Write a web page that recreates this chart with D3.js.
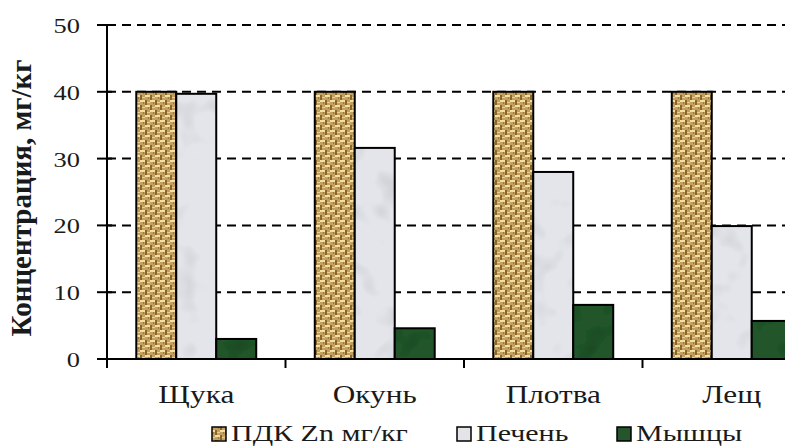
<!DOCTYPE html>
<html><head><meta charset="utf-8">
<script src="https://cdn.jsdelivr.net/npm/d3@7"></script>
<style>body{margin:0;background:#fff;overflow:hidden}svg{display:block}
text{font-family:"Liberation Serif","Times New Roman","DejaVu Serif",serif;fill:#1a1a1a}</style>
</head><body>
<script>
const categories = ["Щука", "Окунь", "Плотва", "Лещ"];
const seriesNames = ["ПДК Zn мг/кг", "Печень", "Мышцы"];
const pdk = [40, 40, 40, 40];
const liver = [39.7, 31.6, 28.0, 19.9];
const muscle = [3.0, 4.6, 8.1, 5.7];
const yTicks = [0, 10, 20, 30, 40, 50];
const yTitle = "Концентрация, мг/кг";

const W = 785, H = 448;
const svg = d3.select("body").append("svg").attr("width", W).attr("height", H);
const defs = svg.append("defs");

// burlap pattern
const pb = defs.append("pattern").attr("id","burlap").attr("patternUnits","userSpaceOnUse").attr("width",10).attr("height",10);
pb.append("rect").attr("width",10).attr("height",10).attr("fill","#c2a060");
[[0,0,5,2,"#f2dfa6"],[5,5,5,2,"#f2dfa6"],[0,5,2,5,"#8a6428"],[5,0,2,5,"#8a6428"],
 [2,7,3,1,"#e8d08f"],[7,2,3,1,"#e8d08f"],[3,2,1,2,"#9f7c3c"],[8,7,1,2,"#9f7c3c"]]
 .forEach(r=>pb.append("rect").attr("x",r[0]).attr("y",r[1]).attr("width",r[2]).attr("height",r[3]).attr("fill",r[4]));

function marbleFilter(id, seed, amp){
  const f = defs.append("filter").attr("id",id).attr("x",0).attr("y",0).attr("width",1).attr("height",1);
  f.append("feTurbulence").attr("type","fractalNoise").attr("baseFrequency",0.04).attr("numOctaves",2).attr("seed",seed).attr("result","n");
  f.append("feColorMatrix").attr("in","n").attr("type","matrix")
   .attr("values",`0 0 0 0 0  0 0 0 0 0  0 0 0 0 0  -${amp} 0 0 0 ${amp*0.45}`).attr("result","a");
  f.append("feComposite").attr("in","a").attr("in2","SourceGraphic").attr("operator","in").attr("result","c");
  const m = f.append("feMerge");
  m.append("feMergeNode").attr("in","SourceGraphic");
  m.append("feMergeNode").attr("in","c");
}
marbleFilter("marbleG", 3, 0.5);
marbleFilter("marbleD", 7, 0.9);

const y = d3.scaleLinear().domain([0,50]).range([359,25]);
const x0 = d3.scaleBand().domain(categories).range([107,821]).paddingInner(0.328).paddingOuter(0.164);
const x1 = d3.scaleBand().domain(seriesNames).range([0,x0.bandwidth()]);

// stretched text helper
function stext(sel, x, yy, txt, size, sx, anchor, bold){
  const t = sel.append("g").attr("transform",`translate(${x},${yy}) scale(${sx},1)`)
    .append("text").attr("font-size",size).attr("text-anchor",anchor||"start").text(txt);
  if(bold) t.attr("font-weight","bold");
  return t;
}

// grid
svg.append("g").selectAll("line").data(yTicks.filter(d=>d>0)).join("line")
  .attr("x1",107).attr("x2",W).attr("y1",d=>y(d)).attr("y2",d=>y(d))
  .attr("stroke","#000").attr("stroke-width",2).attr("stroke-dasharray","9,6");

const data = categories.map((c,i)=>({c, vals:[pdk[i], liver[i], muscle[i]]}));
const fills = ["url(#burlap)", "#e3e5ea", "#24552c"];
const filters = [null, "url(#marbleG)", "url(#marbleD)"];
const g = svg.append("g");
data.forEach(d=>{
  d.vals.forEach((v,j)=>{
    const bx = x0(d.c)+x1(seriesNames[j]);
    const r = g.append("rect").attr("x",bx).attr("y",y(v)).attr("width",x1.bandwidth()).attr("height",y(0)-y(v))
      .attr("fill",fills[j]);
    if(filters[j]) r.attr("filter",filters[j]);
    g.append("rect").attr("x",bx).attr("y",y(v)).attr("width",x1.bandwidth()).attr("height",y(0)-y(v))
      .attr("fill","none").attr("stroke","#000").attr("stroke-width",2);
  });
});

// axes
const yAxis = svg.append("g");
yAxis.append("line").attr("x1",107).attr("x2",107).attr("y1",y(50)).attr("y2",y(0)).attr("stroke","#000").attr("stroke-width",2);
yAxis.selectAll("line.t").data(yTicks).join("line").attr("class","t")
  .attr("x1",97).attr("x2",112).attr("y1",d=>y(d)).attr("y2",d=>y(d)).attr("stroke","#000").attr("stroke-width",2);
yTicks.forEach(d=>stext(yAxis, 80, y(d)+8, d, 22, 1.2, "end"));

svg.append("line").attr("x1",97).attr("x2",W).attr("y1",y(0)).attr("y2",y(0)).attr("stroke","#000").attr("stroke-width",2);
const step = x0.step();
const bounds = categories.map(c=>x0(c)-step*x0.paddingInner()/2).concat([x0(categories[3])+x0.bandwidth()+step*x0.paddingInner()/2]);
svg.selectAll("line.xt").data(bounds).join("line").attr("class","xt")
  .attr("x1",d=>d).attr("x2",d=>d).attr("y1",y(0)).attr("y2",y(0)+9).attr("stroke","#000").attr("stroke-width",2);
categories.forEach(c=>stext(svg, x0(c)+x0.bandwidth()/2, 403, c, 25, 1.25, "middle"));

svg.append("text").attr("transform","translate(31,198) rotate(-90)").attr("text-anchor","middle")
  .attr("font-weight","bold").attr("font-size",29).text(yTitle);

// legend
const legX = [212, 457, 617];
const legFill = ["#b09050", "#e2e4e8", "#24552c"];
seriesNames.forEach((s,j)=>{
  svg.append("rect").attr("x",legX[j]).attr("y",427).attr("width",14).attr("height",14)
    .attr("fill",j===0?"url(#burlap)":legFill[j]).attr("stroke","#000").attr("stroke-width",1.5);
  stext(svg, legX[j]+19, 441, s, 24, 1.25, "start");
});
</script>
</body></html>
